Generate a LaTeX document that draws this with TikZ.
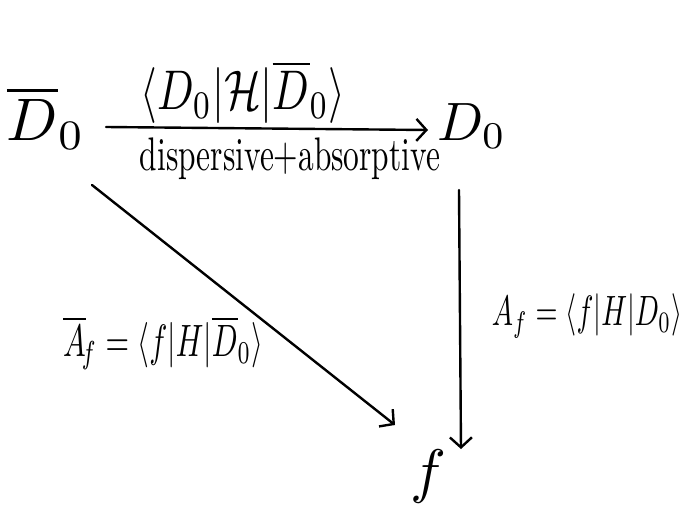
\documentclass[tikz,border=0pt]{standalone}
\usepackage{amsmath}
\usepackage{graphicx}
\usetikzlibrary{arrows.meta}
\begin{document}
\begin{tikzpicture}[x=1pt,y=-1pt,
  every node/.style={inner sep=0pt, outer sep=0pt},
  big/.style={scale=6.0},
  arr/.style={line width=2.4pt, line cap=round, -{Straight Barb[length=10pt,width=22pt,line width=2.4pt]}}]
\path[use as bounding box, fill=white] (0,0) rectangle (686,517);
% nodes
\node[big] (Db) at (46,118) {$\overline{D}_0$};
\node[scale=5.4] (D0) at (472,126) {$D_0$};
\node[big] (f) at (428,476) {$f$};
% labels
\node (lt) at (243,92) {\scalebox{1}[1.3]{\resizebox{205pt}{!}{$\langle D_0|\mathcal{H}|\overline{D}_0\rangle$}}};
\node (lb) at (290,159) {\scalebox{1}[1.5]{\resizebox{300pt}{!}{dispersive+absorptive}}};
\node (ll) at (163,343) {\scalebox{1}[1.5]{\resizebox{200pt}{!}{$\overline{A}_{\!f}=\langle f|H|\overline{D}_0\rangle$}}};
\node (lr) at (587,316) {\scalebox{1}[1.5]{\resizebox{190pt}{!}{$A_f=\langle f|H|D_0\rangle$}}};
% connector ends
\coordinate (t1) at (106,127);
\coordinate (t2) at (428,130);
\coordinate (d1) at (92,185);
\coordinate (d2) at (395,425);
\coordinate (r1) at (459,190);
\coordinate (r2) at (461,449);
\draw[arr] (t1) -- (t2);
\draw[arr] (d1) -- (d2);
\draw[arr] (r1) -- (r2);
\end{tikzpicture}
\end{document}
